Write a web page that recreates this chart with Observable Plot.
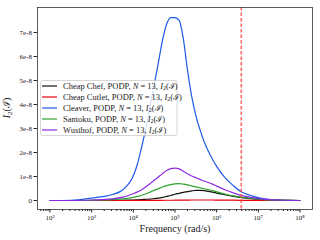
<!DOCTYPE html>
<html><head><meta charset="utf-8">
<script src="https://cdn.jsdelivr.net/npm/d3@7"></script>
<script src="https://cdn.jsdelivr.net/npm/@observablehq/plot@0.6"></script>
<style>body{margin:0;background:#fff}</style>
</head><body><div id="chart"></div>
<script>
// Frequencies (rad/s)
const freq = [1e2, 3.16e2, 1e3, 1.78e3, 3.16e3, 5.62e3, 1e4, 1.26e4, 1.58e4, 2e4, 2.51e4, 3.16e4, 3.98e4, 5.01e4, 6.31e4, 7.94e4,
  1e5, 1.26e5, 1.58e5, 2e5, 2.51e5, 3.16e5, 3.98e5, 5.01e5, 6.31e5, 7.94e5, 1e6, 1.58e6, 2.51e6, 3.98e6, 6.31e6, 1e7, 1.78e7, 3.16e7, 1e8];
// Values in units of 1e-8
const cheapChef = [0, 0, 0, 0, 0.005, 0.01, 0.02, 0.03, 0.04, 0.05, 0.06, 0.08, 0.1, 0.13, 0.17, 0.21,
  0.26, 0.3, 0.34, 0.37, 0.4, 0.42, 0.42, 0.41, 0.38, 0.35, 0.31, 0.24, 0.17, 0.12, 0.08, 0.05, 0.02, 0.01, 0];
const cheapCutlet = [0, 0, 0, 0, 0, 0, 0.002, 0.003, 0.004, 0.005, 0.006, 0.007, 0.008, 0.009, 0.01, 0.01,
  0.012, 0.014, 0.016, 0.018, 0.02, 0.02, 0.02, 0.02, 0.02, 0.02, 0.018, 0.015, 0.012, 0.009, 0.006, 0.004, 0.002, 0.001, 0];
const cleaver = [0, 0.01, 0.1, 0.16, 0.25, 0.45, 1.03, 1.53, 2.22, 3.0, 3.9, 4.82, 5.73, 6.67, 7.35, 7.62,
  7.62, 7.5, 6.75, 5.42, 4.35, 3.55, 2.95, 2.45, 2.05, 1.72, 1.42, 0.95, 0.62, 0.35, 0.22, 0.12, 0.05, 0.02, 0];
const santoku = [0, 0, 0.01, 0.02, 0.04, 0.07, 0.13, 0.17, 0.22, 0.28, 0.35, 0.42, 0.49, 0.56, 0.62, 0.66,
  0.69, 0.7, 0.68, 0.65, 0.61, 0.57, 0.53, 0.49, 0.45, 0.41, 0.36, 0.27, 0.19, 0.13, 0.1, 0.06, 0.03, 0.02, 0];
const wusthof = [0, 0, 0.02, 0.04, 0.07, 0.14, 0.28, 0.36, 0.45, 0.57, 0.7, 0.84, 0.98, 1.12, 1.25, 1.33,
  1.35, 1.32, 1.22, 1.11, 1.02, 0.95, 0.88, 0.81, 0.75, 0.68, 0.6, 0.45, 0.32, 0.2, 0.14, 0.08, 0.04, 0.02, 0];
const unit = 1e-8;

const seriesNames = ["Cheap Chef", "Cheap Cutlet", "Cleaver", "Santoku", "Wusthof"];
const seriesValues = [cheapChef, cheapCutlet, cleaver, santoku, wusthof];
const seriesColors = ["#111111", "#e8000b", "#1f5ae8", "#2ca02c", "#8b2be2"];
const yTicks = [0, 1e-8, 2e-8, 3e-8, 4e-8, 5e-8, 6e-8, 7e-8];
const xTicks = [1e2, 1e3, 1e4, 1e5, 1e6, 1e7, 1e8];
const cutoff = 3.9e6;

const rows = [];
seriesValues.forEach((vals, i) => vals.forEach((v, j) => rows.push({series: seriesNames[i], f: freq[j], v: v * unit})));

const xDomain = [10 ** 1.7, 10 ** 8.3];
const minorTicks = [];
for (let e = 1; e <= 8; e++) for (let m = 2; m <= 9; m++) {
  const t = m * 10 ** e;
  if (t > xDomain[0] && t < xDomain[1]) minorTicks.push(t);
}
const supDigits = {"0":"⁰","1":"¹","2":"²","3":"³","4":"⁴","5":"⁵","6":"⁶","7":"⁷","8":"⁸","9":"⁹"};
const supFmt = d => "10" + String(Math.round(Math.log10(d))).split("").map(c => supDigits[c]).join("");

const svg = Plot.plot({
  width: 320, height: 240,
  marginLeft: 37, marginRight: 8, marginTop: 7, marginBottom: 31,
  style: {fontFamily: "'Liberation Serif', serif", fontSize: "7px", background: "#fff", color: "#222"},
  x: {type: "log", domain: xDomain},
  y: {domain: [-0.375e-8, 8.04e-8]},
  color: {domain: seriesNames, range: seriesColors},
  marks: [
    Plot.axisX(minorTicks, {tickSize: 2, tickFormat: () => "", label: null}),
    Plot.axisX(xTicks, {tickSize: 3.5, tickPadding: 2, tickFormat: supFmt, label: null}),
    Plot.axisY(yTicks, {tickSize: 3.5, tickPadding: 2, tickFormat: d => d === 0 ? "0" : Math.round(d / unit) + "e-8", label: null}),
    Plot.line(rows, {x: "f", y: "v", stroke: "series", z: "series", strokeWidth: 1.2, curve: "monotone-x"}),
    Plot.ruleX([cutoff], {stroke: "#ff5050", strokeOpacity: 0.85, strokeWidth: 1.6, strokeDasharray: "3.5,2"}),
    Plot.frame({stroke: "#333", strokeWidth: 0.8}),
    Plot.text(["Frequency (rad/s)"], {frameAnchor: "bottom", dy: 22, fontSize: 10, fill: "#222"})
  ]
});
document.getElementById("chart").appendChild(svg);

const s = d3.select(svg);
// y label
const yl = s.append("text")
  .attr("transform", "translate(10,108) rotate(-90)")
  .attr("text-anchor", "middle")
  .attr("font-size", 10)
  .attr("fill", "#222");
yl.append("tspan").attr("font-style", "italic").text("I");
yl.append("tspan").attr("font-size", 7).attr("dy", 2).text("2");
yl.append("tspan").attr("dy", -2).text("(ℐ)");

// legend
const lg = s.append("g").attr("text-anchor", "start");
lg.append("rect").attr("x", 40.5).attr("y", 80.5).attr("width", 136.5).attr("height", 55)
  .attr("rx", 2).attr("fill", "#fff").attr("fill-opacity", 0.8).attr("stroke", "#ccc").attr("stroke-width", 0.8);
seriesNames.forEach((name, i) => {
  const cy = 86 + i * 11;
  lg.append("line").attr("x1", 42).attr("x2", 57).attr("y1", cy).attr("y2", cy)
    .attr("stroke", seriesColors[i]).attr("stroke-width", 1.2);
  const t = lg.append("text").attr("x", 63).attr("y", cy + 2.8).attr("font-size", 8.5)
    .attr("fill", "#222").attr("text-anchor", "start");
  t.append("tspan").text(name + ", PODP, ");
  t.append("tspan").attr("font-style", "italic").text("N");
  t.append("tspan").text(" = 13, ");
  t.append("tspan").attr("font-style", "italic").text("I");
  t.append("tspan").attr("font-size", 6).attr("dy", 1.5).text("2");
  t.append("tspan").attr("dy", -1.5).text("(ℐ)");
});
</script>
</body></html>
